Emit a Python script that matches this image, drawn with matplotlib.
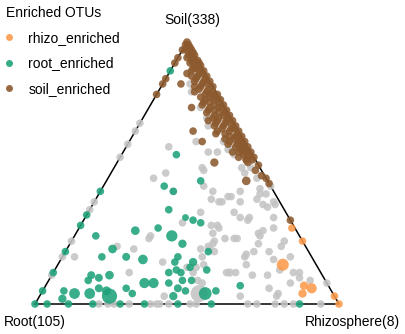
import numpy as np
import matplotlib
matplotlib.use("Agg")
import matplotlib.pyplot as plt
from matplotlib.lines import Line2D

plt.rcParams['font.family'] = ['Liberation Sans', 'DejaVu Sans']

# each OTU: (soil %, root %, relative abundance); rhizosphere % = 100 - soil - root
rhizo_enriched = [
    (29, 1, 1), (24, 0, 1), (15, 11, 2.5), (7, 8, 1.2), (6, 6, 1.8),
    (4, 10, 1.2), (3, 0, 1), (0, 0, 1),
]

root_enriched = [
    (57, 25, 1), (45, 35, 1), (43, 33, 1), (47, 22, 1), (36, 38, 1),
    (33, 34, 0.8), (32, 32, 1), (31, 30, 1), (43, 57, 1), (34, 66, 1),
    (30, 70, 1), (20, 80, 1), (12, 88, 1), (5, 95, 1), (0, 100, 1),
    (89, 11, 1), (28, 53, 1.3), (29, 45, 1), (26, 42, 2.2), (23, 40, 1.2),
    (26, 67, 1), (21, 64, 1.3), (18, 69, 1), (18, 61, 1.1), (17, 56, 1.6),
    (16, 46, 1), (16, 40, 1.2), (18, 44, 1), (12, 50, 1), (13, 47, 1),
    (9, 47, 1), (13, 37, 1), (11, 76, 1.1), (10, 74, 1.1), (11, 70, 1.3),
    (9, 78, 1), (8, 60, 1.8), (8, 57, 1.8), (8, 52, 1), (6, 67, 1),
    (6, 76, 1.1), (5, 74, 1.4), (4, 80, 2), (4, 85, 2), (3, 74, 4),
    (2, 90, 1.2), (5, 88, 1), (4, 66, 1), (6, 50, 1.1), (3, 53, 1.2),
    (5, 48, 1), (4, 42, 2.8), (5, 38, 1), (0, 96, 1), (0, 89, 1),
    (0, 81, 1), (0, 72, 1), (0, 64, 1), (0, 53, 1), (0, 42, 1),
    (0, 13, 1), (20, 33, 1), (14, 42, 1), (12, 46, 1), (7, 29, 1),
    (9, 44, 1),
]

soil_enriched = [
    (100, 0, 1), (97, 3, 1), (94, 6, 1), (92, 8, 1), (86, 14, 1),
    (84, 16, 1), (80, 20, 1), (88, 6, 1), (84, 10, 1), (75, 11, 1),
    (66, 15, 1), (62, 14, 1), (54, 14, 1.2), (47, 7, 1.3), (46, 0, 1),
    (55, 3, 1), (32, 0, 1), (58, 6, 1), (56, 5, 1), (58, 0, 1),
    (54, 3, 1), (48, 0, 1),
    (99, 0, 1), (99, 1, 1), (98, 0, 1), (98, 1, 1), (97, 0, 1), (97, 2, 1),
    (96, 1, 1), (96, 0, 1), (95, 0, 1), (95, 2, 1), (95, 1, 1), (94, 1, 1),
    (94, 3, 1), (93, 0, 1), (93, 2, 1), (92, 1, 1), (92, 3, 1), (92, 0, 1),
    (91, 2, 1), (91, 0, 1), (90, 1, 1), (90, 3, 1), (90, 2, 1), (89, 0, 1),
    (89, 4, 1), (88, 2, 1), (88, 1, 1), (87, 0, 1), (87, 3, 1), (87, 5, 1),
    (86, 1, 1), (86, 4, 1), (85, 2, 1), (85, 0, 1), (85, 5, 1), (84, 3, 1),
    (84, 1, 1), (83, 0, 1), (83, 4, 1), (83, 6, 1), (82, 2, 1), (82, 5, 1),
    (81, 1, 1), (81, 3, 1), (81, 7, 1), (80, 0, 1), (80, 4, 1), (80, 2, 1),
    (79, 6, 1), (79, 1, 1), (79, 3, 1), (78, 2, 1), (78, 5, 1), (78, 0, 1),
    (77, 4, 1), (77, 1, 1), (77, 6, 1), (76, 0, 1), (76, 3, 1), (76, 7, 1),
    (75, 2, 1), (75, 5, 1), (75, 1, 1), (74, 4, 1), (74, 0, 1), (74, 6, 1),
    (73, 1, 1), (73, 3, 1), (73, 7, 1), (72, 5, 1), (72, 2, 1), (72, 0, 1),
    (71, 4, 1), (71, 6, 1), (71, 1, 1), (70, 2, 1), (70, 0, 1), (70, 5, 1),
    (70, 8, 1), (69, 3, 1), (69, 6, 1), (69, 1, 1), (68, 0, 1), (68, 4, 1),
    (68, 7, 1), (67, 2, 1), (67, 5, 1), (67, 1, 1), (66, 3, 1), (66, 7, 1),
    (66, 0, 1), (65, 1, 1), (65, 5, 1), (65, 8, 1), (64, 2, 1), (64, 4, 1),
    (64, 0, 1), (63, 6, 1), (63, 3, 1), (63, 1, 1), (62, 0, 1), (62, 5, 1),
    (62, 2, 1), (61, 3, 1), (61, 1, 1), (61, 6, 1), (60, 4, 1), (60, 0, 1),
    (60, 2, 1), (59, 1, 1), (59, 3, 1), (58, 4, 1), (58, 2, 1), (57, 1, 1),
    (57, 3, 1), (56, 2, 1), (56, 0, 1), (55, 1, 1), (55, 3, 1), (53, 0, 1),
    (51, 2, 1), (49, 1, 1),
]

not_enriched = [
    (35, 28, 1), (39, 20, 1), (35, 17, 1), (33, 16, 1), (32, 14, 1),
    (38, 6, 1), (37, 5, 1), (33, 5, 1), (31, 36, 1), (30, 27, 1),
    (30, 25, 1), (27, 13, 1), (28, 11, 1), (29, 7, 1), (26, 49, 1),
    (22, 62, 1), (25, 22, 1), (25, 21, 1), (25, 25, 1), (26, 13, 1),
    (23, 15, 1), (20, 18, 1), (20, 13, 1), (23, 30, 1), (22, 32, 1),
    (20, 31, 1), (21, 57, 1), (19, 21, 1), (18, 78, 1), (16, 50, 1),
    (14, 43, 1), (14, 40, 1), (12, 30, 1.2), (12, 28, 1), (11, 18, 1),
    (17, 13, 1), (12, 9, 1), (12, 7, 1), (12, 63, 1), (9, 5, 1),
    (8, 41, 1), (4, 44, 5), (3, 56, 1), (3, 31, 1), (6, 20, 1),
    (3, 19, 1), (4, 18, 1), (8, 12, 1), (8, 0, 1),
    (0, 79, 1), (0, 76, 1), (0, 74, 1), (0, 69, 1), (0, 62, 1),
    (0, 60, 1), (0, 59, 1), (0, 56, 1), (0, 49, 1), (0, 47, 1),
    (0, 30, 1), (0, 27, 1), (0, 21, 1), (0, 18, 1), (0, 15, 1), (0, 6, 1),
    (58, 14, 1), (51, 19, 1), (43, 20, 1), (39, 19, 1), (41, 16, 1),
    (43, 11, 1), (39, 13, 1), (42, 5, 1), (33, 13, 1), (24, 29, 1),
    (21, 35, 1), (18, 22, 1), (15, 23, 1), (12, 31, 1), (11, 23, 1),
    (13, 13, 1), (18, 7, 1), (10, 8, 1), (15, 37, 1), (22, 8, 1),
    (24, 6, 1), (68, 9, 1), (62, 16, 1), (59, 6, 1), (58, 11, 1),
    (57, 6, 1), (52, 6, 1), (50, 6, 1), (52, 3, 1), (48, 3, 1),
    (44, 4, 1), (45, 0, 1), (42, 3, 1), (40, 7, 1), (41, 15, 1),
    (40, 22, 1), (39, 2, 1), (38, 2, 1), (92, 2, 1), (84, 7, 1),
    (81, 8, 1), (75, 8, 1), (71, 8, 1), (60, 26, 1), (62, 7, 1),
    (59, 7, 1), (52, 19, 1), (45, 22, 1), (50, 32, 1), (48, 37, 1),
    (29, 25, 1), (27, 28, 1), (25, 50, 1), (21, 32, 1), (18, 36, 1),
    (12, 42, 1), (9, 42, 1), (43, 33, 1),
    (39, 61, 1), (36, 64, 1), (24, 76, 1), (18, 82, 1), (11, 89, 1),
    (69, 31, 1), (66, 34, 1), (61, 39, 1), (56, 44, 1),
]

groups = [
    ("not_enriched", not_enriched, "#c4c4c4"),
    ("soil_enriched", soil_enriched, "#8c5a2e"),
    ("root_enriched", root_enriched, "#1fa27a"),
    ("rhizo_enriched", rhizo_enriched, "#fb9a4b"),
]

H = np.sqrt(3) / 2


def to_xy(pts):
    a = np.array(pts, dtype=float)
    soil = a[:, 0] / 100
    root = a[:, 1] / 100
    rhizo = 1 - soil - root
    return rhizo + 0.5 * soil, soil * H, a[:, 2]


fig = plt.figure(figsize=(4.06, 3.34), dpi=100)
ax = fig.add_axes([0, 0, 1, 1])
ax.set_xlim(-35 / 304, 371 / 304)
ax.set_ylim(-30 / 302.5, 304 / 302.5)
ax.axis('off')

for name, pts, col in groups:
    x, y, ab = to_xy(pts)
    ax.scatter(x, y, s=30 * ab, c=col, alpha=0.88, linewidths=0, zorder=3)

tri_x = [0, 1, 0.5, 0]
tri_y = [0, 0, H, 0]
ax.plot(tri_x, tri_y, color='black', lw=1.1, zorder=2)

ax.text(0.5 + 5 / 304, H + 22 / 302.5, "Soil(338)", ha='center', va='center',
        fontsize=10)
ax.text(-31 / 304, -18 / 302.5, "Root(105)", ha='left', va='center',
        fontsize=10)
ax.text(1 + 61 / 304, -18 / 302.5, "Rhizosphere(8)", ha='right', va='center',
        fontsize=10)

handles = [Line2D([], [], ls='', marker='o', ms=5, color=c, alpha=0.9, mec='none')
           for _, _, c in groups[1:][::-1]]
labels = ["rhizo_enriched", "root_enriched", "soil_enriched"]
leg = ax.legend(handles, labels, title="Enriched OTUs", loc='upper left',
                bbox_to_anchor=(0.0, 1.0), bbox_transform=fig.transFigure,
                frameon=False, fontsize=10, title_fontsize=10,
                handletextpad=1.15, handlelength=0.45, labelspacing=0.8,
                borderaxespad=0.1, borderpad=0.35)
leg._legend_box.align = "left"

fig.savefig("out.png", dpi=100)
